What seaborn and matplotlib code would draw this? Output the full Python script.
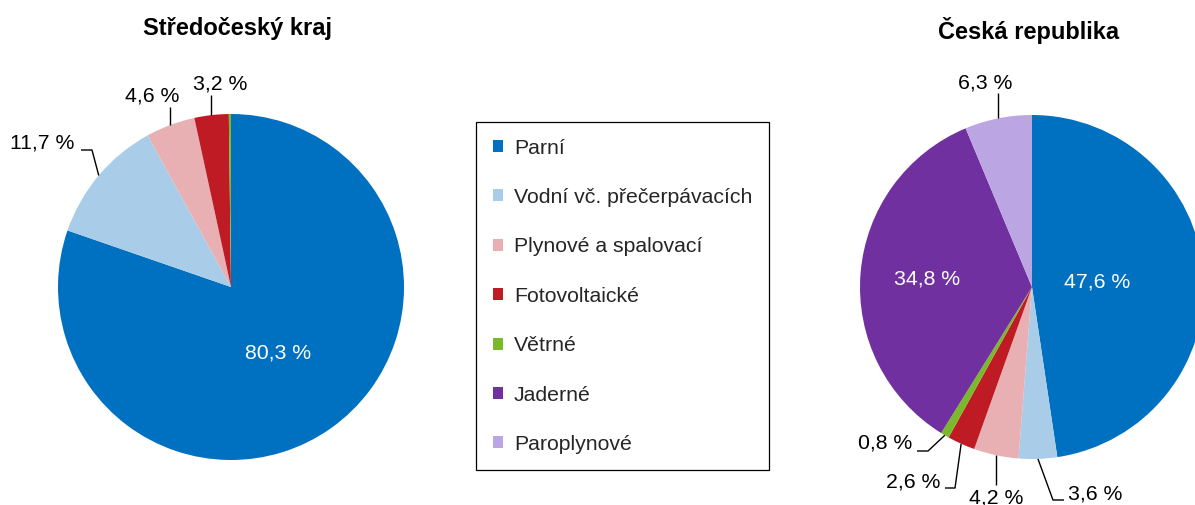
import numpy as np
import matplotlib
matplotlib.use("Agg")
import matplotlib.pyplot as plt
from matplotlib.patches import Patch
import seaborn as sns

# data
categories = ["Parní", "Vodní vč. přečerpávacích", "Plynové a spalovací",
              "Fotovoltaické", "Větrné", "Jaderné", "Paroplynové"]
stc_values = [80.3, 11.7, 4.6, 3.2, 0.2, 0.0, 0.0]
cr_values = [47.6, 3.6, 4.2, 2.6, 0.8, 34.8, 6.3]
stc_labels = ["80,3 %", "11,7 %", "4,6 %", "3,2 %", "", "", ""]
cr_labels = ["47,6 %", "3,6 %", "4,2 %", "2,6 %", "0,8 %", "34,8 %", "6,3 %"]
titles = ["Středočeský kraj", "Česká republika"]

colors = sns.color_palette(["#0070C0", "#A9CDE8", "#E8B0B3", "#BE1B24",
                            "#7AB929", "#7030A0", "#BBA6E3"])

sns.set_theme(style="white")
plt.rcParams["font.family"] = ["Liberation Sans", "DejaVu Sans"]

W, H = 1195, 505
FS = 15.3
fig = plt.figure(figsize=(W / 100, H / 100), dpi=100)
ax = fig.add_axes([0, 0, 1, 1])

def py(y):
    # pixel row (from top) -> data y
    return H - y

# layout of each pie: centre, radius, inside label radii, outside label layouts
# outside: index -> (text x, text y, ha, va, [extra leader points])
pies = [
    dict(values=stc_values, labels=stc_labels, center=(231, 287), r=173,
         title_xy=(238, 28),
         inside={0: 0.47},
         outside={1: (74, 143, "right", "center", [(92, 150), (81, 150)]),
                  2: (152, 96, "center", "center", [(None, 107)]),
                  3: (220, 84, "center", "center", [(None, 95)])}),
    dict(values=cr_values, labels=cr_labels, center=(1032, 287), r=172,
         title_xy=(1029, 30),
         inside={0: 0.38, 5: 0.61},
         outside={6: (985, 83, "center", "center", [(None, 93)]),
                  4: (912, 443, "right", "center", [(928, 451), (917, 451)]),
                  3: (940, 482, "right", "center", [(955, 488), (945, 488)]),
                  2: (996, 489, "center", "top", [(None, 485)]),
                  1: (1068, 494, "left", "center", [(1053, 500), (1064, 500)])}),
]

for p, title in zip(pies, titles):
    cx, cy = p["center"]
    vals = np.array(p["values"])
    wedges, _ = ax.pie(vals, colors=colors, startangle=90, counterclock=False,
                       center=(cx, py(cy)), radius=p["r"],
                       wedgeprops=dict(linewidth=0))
    ax.text(p["title_xy"][0], py(p["title_xy"][1]), title, ha="center",
            va="center", fontsize=17, fontweight="bold", color="black")
    for i, w in enumerate(wedges):
        if vals[i] <= 0:
            continue
        mid = np.deg2rad((w.theta1 + w.theta2) / 2)
        if i in p["inside"]:
            f = p["inside"][i] * p["r"]
            ax.text(cx + f * np.cos(mid), py(cy) + f * np.sin(mid), p["labels"][i],
                    ha="center", va="center", color="white", fontsize=FS)
        elif i in p["outside"]:
            tx, ty, ha, va, pts = p["outside"][i]
            ax0 = cx + p["r"] * np.cos(mid)
            ay0 = py(cy) + p["r"] * np.sin(mid)
            xs, ys = [ax0], [ay0]
            for (qx, qy) in pts:
                xs.append(ax0 if qx is None else qx)
                ys.append(py(qy))
            ax.plot(xs, ys, color="black", lw=1.0, solid_capstyle="butt")
            ax.text(tx, py(ty), p["labels"][i], ha=ha, va=va, color="black",
                    fontsize=FS)

ax.set_xlim(0, W)
ax.set_ylim(0, H)
ax.set_aspect("equal")
ax.axis("off")

handles = [Patch(facecolor=c, edgecolor="none") for c in colors]
leg = fig.legend(handles, categories, loc="upper left",
                 bbox_to_anchor=(476 / W, 1 - 122 / H), fontsize=FS,
                 frameon=True, fancybox=False, framealpha=1, edgecolor="black",
                 handlelength=0.5, handleheight=0.5, handletextpad=0.5,
                 labelspacing=1.43, borderpad=0.78, borderaxespad=0)
leg.get_frame().set_linewidth(0.9)

fig.savefig("out.png", dpi=100)
